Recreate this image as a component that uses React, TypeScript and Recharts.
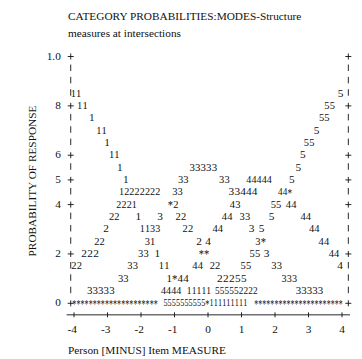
import React from "react"
import { ScatterChart, Scatter, XAxis, YAxis } from "recharts"

const FONT = "'Liberation Serif', 'Times New Roman', Times, serif"
const INK = "#111"

// rows of the text plot, one row = .05 probability
const ROWS = [0, 0.05, 0.1, 0.15, 0.2, 0.25, 0.3, 0.35, 0.4, 0.45, 0.5, 0.55, 0.6, 0.65, 0.7, 0.75, 0.8, 0.85, 0.9, 0.95, 1.0]
const Y_LABEL_VALUES = [0, 0.2, 0.4, 0.5, 0.6, 0.8, 1.0]
const Y_LABEL_TEXT = ["0", "2", "4", "5", "6", "8", "1.0"]
const X_TICKS = [-4, -3, -2, -1, 0, 1, 2, 3, 4]

// runs of category numbers: [measure of first char, measure of last char, characters]
type Run = [number, number, string]

const P85: Run[] = [[-4.02, -3.86, "11"], [3.96, 3.96, "5"]]
const P80: Run[] = [[-3.83, -3.67, "11"], [3.55, 3.71, "55"]]
const P75: Run[] = [[-3.47, -3.47, "1"], [3.39, 3.55, "55"]]
const P70: Run[] = [[-3.26, -3.1, "11"], [3.24, 3.24, "5"]]
const P65: Run[] = [[-3.01, -3.01, "1"], [2.94, 3.1, "55"]]
const P60: Run[] = [[-2.88, -2.72, "11"], [2.83, 2.83, "5"]]
const P55: Run[] = [[-2.63, -2.63, "1"], [-0.47, 0.19, "33333"], [2.7, 2.7, "5"]]
const P50: Run[] = [[-2.45, -2.45, "1"], [-0.82, -0.66, "33"], [0.41, 0.57, "33"], [1.22, 1.83, "44444"], [2.5, 2.5, "5"]]
const P45: Run[] = [[-2.58, -1.5, "12222222"], [-0.99, -0.83, "33"], [0.7, 1.39, "33444"], [2.16, 2.44, "44*"]]
const P40: Run[] = [[-2.66, -2.2, "2221"], [-1.12, -0.96, "*2"], [0.73, 0.89, "43"], [1.95, 2.11, "55"], [2.4, 2.56, "44"]]
const P35: Run[] = [
  [-2.88, -2.72, "22"], [-2.08, -2.08, "1"], [-1.43, -1.43, "3"], [-0.89, -0.73, "22"],
  [0.49, 0.65, "44"], [1.02, 1.18, "33"], [1.9, 1.9, "5"], [2.84, 3.0, "44"],
]
const P30: Run[] = [
  [-3.04, -3.04, "2"], [-1.96, -1.5, "1133"], [-0.68, -0.52, "22"], [0.21, 0.37, "44"],
  [1.3, 1.3, "3"], [1.6, 1.6, "5"], [3.09, 3.25, "44"],
]
const P25: Run[] = [
  [-3.32, -3.16, "22"], [-1.81, -1.65, "31"], [-0.27, -0.27, "2"], [0, 0, "4"],
  [1.49, 1.65, "3*"], [3.38, 3.54, "44"],
]
const P20: Run[] = [
  [-3.7, -3.34, "222"], [-2.01, -1.85, "33"], [-1.51, -1.51, "1"], [-0.2, -0.04, "**"],
  [1.32, 1.48, "55"], [1.75, 1.75, "3"], [3.68, 3.84, "44"],
]
const P15: Run[] = [
  [-4.0, -3.84, "22"], [-2.33, -2.17, "33"], [-1.39, -1.23, "11"], [-0.39, -0.23, "44"],
  [0.13, 0.29, "22"], [1.05, 1.21, "55"], [1.97, 2.13, "33"], [3.94, 3.94, "4"],
]
const P10: Run[] = [[-2.61, -2.45, "33"], [-1.16, -0.66, "1*44"], [0.35, 1.07, "22255"], [2.27, 2.58, "333"]]
const P05: Run[] = [
  [-3.53, -2.87, "33333"], [-1.33, -0.87, "4444"], [-0.56, 0.02, "11111"],
  [0.28, 1.41, "555552222"], [2.7, 3.36, "33333"],
]
const P00: Run[] = [
  [-3.99, -1.56, "*********************"],
  [-1.27, 1.11, "5555555555*111111111"],
  [1.44, 3.96, "**********************"],
]

const ROW_RUNS: [number, Run[]][] = [
  [0.85, P85], [0.8, P80], [0.75, P75], [0.7, P70], [0.65, P65], [0.6, P60],
  [0.55, P55], [0.5, P50], [0.45, P45], [0.4, P40], [0.35, P35], [0.3, P30],
  [0.25, P25], [0.2, P20], [0.15, P15], [0.1, P10], [0.05, P05], [0, P00],
]

// one point per character of a run, spread evenly between its first and last char
const GLYPHS = ROW_RUNS.flatMap(([p, runs]) =>
  runs.flatMap(([x0, x1, s]) => {
    const chars = Array.from(s)
    const pitch = chars.length > 1 ? (x1 - x0) / (chars.length - 1) : 0
    return chars.map((ch, i) => ({ x: x0 + i * pitch, p, ch, pitch }))
  })
)

// chart geometry
const CHART_W = 362
const CHART_H = 359
const LEFT_W = 66.63
const RIGHT_W = 11.96
const X_DOMAIN: [number, number] = [-4.22, 4.24]
const Y_DOMAIN: [number, number] = [-0.05, 1.05]
const PX_PER_X = (CHART_W - LEFT_W - RIGHT_W) / (X_DOMAIN[1] - X_DOMAIN[0])

const labelIndex = (v: number) => Y_LABEL_VALUES.findIndex((l) => Math.abs(l - v) < 1e-6)

function Plus({ cx, cy }: { cx: number; cy: number }) {
  return (
    <g stroke={INK} strokeWidth={0.9}>
      <line x1={cx - 3} x2={cx + 3} y1={cy} y2={cy} />
      <line x1={cx} x2={cx} y1={cy - 3} y2={cy + 3} />
    </g>
  )
}

function Border({ bx, y, value }: { bx: number; y: number; value: number }) {
  if (labelIndex(value) >= 0) return <Plus cx={bx} cy={y + 0.8} />
  return <line x1={bx} x2={bx} y1={y - 3.5} y2={y + 3} stroke={INK} strokeWidth={0.9} />
}

function LeftTick(props: any) {
  const { x, y, payload } = props
  const i = labelIndex(payload.value)
  return (
    <g>
      {i >= 0 && (
        <text x={x - 5.8} y={y + 3.8} textAnchor="end" fontFamily={FONT} fontSize={11.3} fill={INK}>
          {Y_LABEL_TEXT[i]}
        </text>
      )}
      <Border bx={x + 4.1} y={y} value={payload.value} />
    </g>
  )
}

function RightTick(props: any) {
  const { x, y, payload } = props
  return <Border bx={x - 1.7} y={y} value={payload.value} />
}

function TopTick(props: any) {
  const { x, y } = props
  return <line x1={x} x2={x} y1={y - 2.5} y2={y + 2.5} stroke={INK} strokeWidth={0.9} />
}

function BottomTick(props: any) {
  const { x, y, payload } = props
  return (
    <g>
      <line x1={x} x2={x} y1={y - 2.5} y2={y + 2.5} stroke={INK} strokeWidth={0.9} />
      <text x={x + 2.8} y={y + 18.5} textAnchor="end" fontFamily={FONT} fontSize={11.3} fill={INK}>
        {String(payload.value)}
      </text>
    </g>
  )
}

function Glyph(props: any) {
  const { cx, cy, payload } = props
  const star = payload.ch === "*"
  const size = star ? 12.5 : 11.3
  const advance = size * 0.5
  const pitchPx = payload.pitch * PX_PER_X
  // tightly packed runs (the bottom row) are squeezed into their column width
  const squeeze = pitchPx > 0 && pitchPx < advance
  return (
    <text
      x={cx}
      y={cy + (star ? 5.2 : 3.8)}
      textAnchor="middle"
      fontFamily={FONT}
      fontSize={size}
      fill={INK}
      textLength={squeeze ? pitchPx - 0.1 : undefined}
      lengthAdjust={squeeze ? "spacingAndGlyphs" : undefined}
    >
      {payload.ch}
    </text>
  )
}

export default function App() {
  return (
    <div style={{ position: "absolute", left: 0, top: 0, width: CHART_W, height: CHART_H, background: "#fff" }}>
      <ScatterChart width={CHART_W} height={CHART_H} margin={{ top: 43.36, right: 0, bottom: 0, left: 0 }}>
        <XAxis
          xAxisId="top"
          orientation="top"
          type="number"
          dataKey="x"
          domain={X_DOMAIN}
          ticks={X_TICKS}
          interval={0}
          height={0}
          allowDataOverflow
          tickSize={0}
          tickMargin={0}
          tickLine={false}
          axisLine={{ stroke: INK, strokeWidth: 0.9 }}
          tick={<TopTick />}
        />
        <XAxis
          xAxisId="bottom"
          orientation="bottom"
          type="number"
          dataKey="x"
          domain={X_DOMAIN}
          ticks={X_TICKS}
          interval={0}
          height={44.16}
          allowDataOverflow
          tickSize={0}
          tickMargin={0}
          tickLine={false}
          axisLine={{ stroke: INK, strokeWidth: 0.9 }}
          tick={<BottomTick />}
        />
        <YAxis
          yAxisId="left"
          orientation="left"
          type="number"
          dataKey="p"
          domain={Y_DOMAIN}
          ticks={ROWS}
          interval={0}
          width={LEFT_W}
          allowDataOverflow
          tickSize={0}
          tickMargin={0}
          tickLine={false}
          axisLine={false}
          tick={<LeftTick />}
        />
        <YAxis
          yAxisId="right"
          orientation="right"
          type="number"
          dataKey="p"
          domain={Y_DOMAIN}
          ticks={ROWS}
          interval={0}
          width={RIGHT_W}
          allowDataOverflow
          tickSize={0}
          tickMargin={0}
          tickLine={false}
          axisLine={false}
          tick={<RightTick />}
        />
        <Scatter
          data={GLYPHS}
          xAxisId="bottom"
          yAxisId="left"
          dataKey="p"
          isAnimationActive={false}
          shape={<Glyph />}
        />
      </ScatterChart>
      <svg width={CHART_W} height={CHART_H} style={{ position: "absolute", left: 0, top: 0, pointerEvents: "none" }}>
        <g fontFamily={FONT} fontSize={11.3} fill={INK}>
          <text x={68} y={20}>CATEGORY PROBABILITIES:MODES-Structure</text>
          <text x={68} y={36.5}>measures at intersections</text>
          <text x={68} y={354}>Person [MINUS] Item MEASURE</text>
          <text x={36.3} y={181} textAnchor="middle" transform="rotate(-90 36.3 181)">
            PROBABILITY OF RESPONSE
          </text>
        </g>
      </svg>
    </div>
  )
}
